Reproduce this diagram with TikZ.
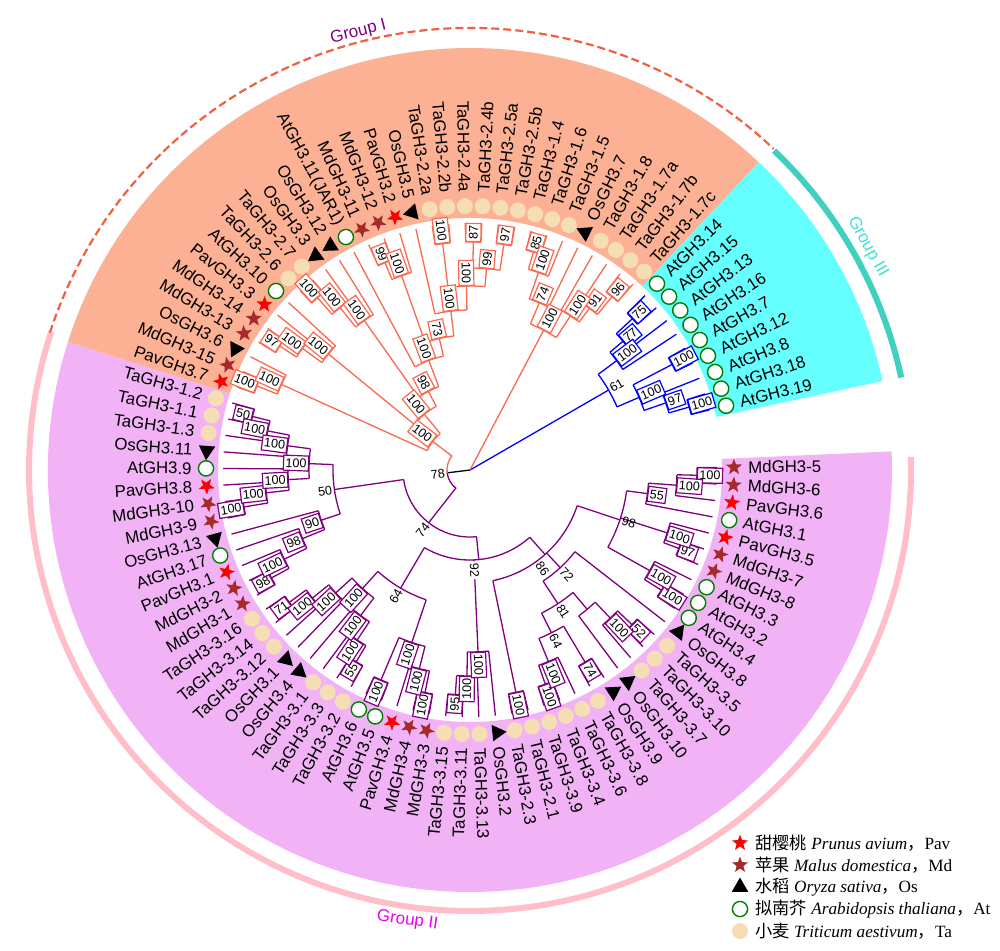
\documentclass[tikz,border=0pt]{standalone}
\usepackage{fontspec}
\setmainfont{Liberation Sans}
\newfontfamily\cjkfont{Noto Sans CJK SC}
\newfontfamily\lserif{Liberation Serif}
\usetikzlibrary{shapes.geometric}
\definecolor{secI}{RGB}{252,176,148}
\definecolor{secII}{RGB}{241,179,245}
\definecolor{secIII}{RGB}{102,255,255}
\definecolor{brI}{RGB}{250,105,80}
\definecolor{brII}{RGB}{128,0,128}
\definecolor{brIII}{RGB}{0,0,255}
\definecolor{wheatc}{RGB}{245,222,179}
\definecolor{brownc}{RGB}{165,42,42}
\definecolor{greenc}{RGB}{0,128,0}
\definecolor{ringI}{RGB}{245,95,65}
\definecolor{ringII}{RGB}{255,190,200}
\definecolor{ringIII}{RGB}{64,208,192}
\definecolor{txtI}{RGB}{128,0,128}
\definecolor{txtII}{RGB}{240,0,240}
\definecolor{txtIII}{RGB}{64,224,208}
\newcommand\setA[2]{\expandafter\xdef\csname tA@#1\endcsname{#2}}
\newcommand\getA[1]{\csname tA@#1\endcsname}
\newcommand\setR[2]{\expandafter\xdef\csname tR@#1\endcsname{#2}}
\newcommand\getR[1]{\csname tR@#1\endcsname}
\newcommand\blab[5]{%
  \if\relax\detokenize{#4}\relax\else
  \pgfmathtruncatemacro\nS{cos(\nM)>0}%
  \ifnum\nS=1
    \node[draw=#1,#5,rotate=\nM,anchor=west] (lab#2) at (\nM:#3) {#4};%
  \else
    \pgfmathsetmacro\nN{\nM+180}%
    \node[draw=#1,#5,rotate=\nN,anchor=east] (lab#2) at (\nM:#3) {#4};%
  \fi
  \fi}
\newcommand\lf[3]{%
  \pgfmathsetmacro\lfA{0.6-3.85*#1}%
  \setA{L#1}{\lfA}\setR{L#1}{247}%
  \coordinate (L#1) at (\lfA:247);
  \node[#2,rotate=\lfA] (m#1) at (\lfA:264) {};
  \pgfmathtruncatemacro\nS{cos(\lfA)>0}%
  \ifnum\nS=1
    \node[leaflab,rotate=\lfA,anchor=west] (t#1) at (\lfA:278) {#3};%
  \else
    \pgfmathsetmacro\lfB{\lfA+180}%
    \node[leaflab,rotate=\lfB,anchor=east] (t#1) at (\lfA:278) {#3};%
  \fi}
\newcommand\nd[7]{%
  \pgfmathsetmacro\nA{\getA{#4}}%
  \pgfmathsetmacro\nB{\getA{#5}}%
  \pgfmathsetmacro\nM{(\nA+\nB)/2}%
  \setA{#2}{\nM}\setR{#2}{#3}%
  \coordinate (#2) at (\nM:#3);
  \draw[brl,#1] (\nA:#3) arc[start angle=\nA,end angle=\nB,radius=#3];
  \draw[brl,#1] (\nA:#3) -- (#4);
  \draw[brl,#1] (\nB:#3) -- (#5);
  \blab{#1}{#2}{#3}{#6}{#7}}
\newcommand\ndt[8]{%
  \pgfmathsetmacro\nA{\getA{#4}}%
  \pgfmathsetmacro\nC{\getA{#5}}%
  \pgfmathsetmacro\nB{\getA{#6}}%
  \pgfmathsetmacro\nM{(\nA+\nB)/2}%
  \setA{#2}{\nM}\setR{#2}{#3}%
  \coordinate (#2) at (\nM:#3);
  \draw[brl,#1] (\nA:#3) arc[start angle=\nA,end angle=\nB,radius=#3];
  \draw[brl,#1] (\nA:#3) -- (#4);
  \draw[brl,#1] (\nC:#3) -- (#5);
  \draw[brl,#1] (\nB:#3) -- (#6);
  \blab{#1}{#2}{#3}{#7}{#8}}
\begin{document}
\begin{tikzpicture}[x=0.5pt,y=0.5pt,
  brl/.style={line width=0.65pt},
  leaflab/.style={font=\fontsize{8.4}{10}\selectfont, inner sep=0pt},
  lblB/.style={fill=white, line width=0.6pt, font=\fontsize{6.3}{6.3}\selectfont, inner xsep=1pt, inner ysep=0pt, minimum height=7.5pt},
  lblN/.style={draw=none, font=\fontsize{6.3}{6.3}\selectfont, inner sep=1pt},
  mkR/.style={star, star points=5, star point ratio=2.4, fill=red, inner sep=0pt, minimum size=8.5pt},
  mkB/.style={mkR, fill=brownc},
  mkTri/.style={regular polygon, regular polygon sides=3, fill=black, inner sep=0pt, minimum size=9.5pt},
  mkG/.style={circle, draw=greenc, fill=white, line width=0.7pt, inner sep=0pt, minimum size=7.6pt},
  mkT/.style={circle, fill=wheatc, inner sep=0pt, minimum size=8pt},
  lgt/.style={font=\lserif\fontsize{8.6}{10}\selectfont, inner sep=0pt, anchor=west},
  glab/.style={font=\fontsize{8.5}{10}\selectfont, inner sep=0pt}]
\useasboundingbox (-470,-480) rectangle (530,470);
\fill[white] (-470,-480) rectangle (530,470);
% sectors
\fill[secII] (2.525:252) arc[start angle=2.525,end angle=-197.675,radius=252] -- (-197.675:422) arc[start angle=-197.675,end angle=2.525,radius=422] -- cycle;
\fill[secI] (-197.675:252) arc[start angle=-197.675,end angle=-313.175,radius=252] -- (-313.175:422) arc[start angle=-313.175,end angle=-197.675,radius=422] -- cycle;
\fill[secIII] (-313.175:252) arc[start angle=-313.175,end angle=-347.825,radius=252] -- (-347.825:422) arc[start angle=-347.825,end angle=-313.175,radius=422] -- cycle;
% rings
\draw[ringII, line width=3pt] (1.7:441) arc[start angle=1.7,end angle=-198.3,radius=441];
\draw[ringI, line width=1.1pt, dash pattern=on 4pt off 2pt] (-198.1:442) arc[start angle=-198.1,end angle=-313.4,radius=442];
\draw[ringIII, line width=3pt] (-313.6:441) arc[start angle=-313.6,end angle=-347.9,radius=441];
\node[glab, text=txtI, rotate=14.3] (gI) at (104.3:452) {Group I};
\node[glab, text=txtIII, rotate=-60.7] (gIII) at (29.3:456) {Group III};
\node[glab, text=txtII, rotate=-8] (gII) at (-97.9:455) {Group II};
% leaves
\lf{0}{mkB}{MdGH3-5}
\lf{1}{mkB}{MdGH3-6}
\lf{2}{mkR}{PavGH3.6}
\lf{3}{mkG}{AtGH3.1}
\lf{4}{mkR}{PavGH3.5}
\lf{5}{mkB}{MdGH3-7}
\lf{6}{mkB}{MdGH3-8}
\lf{7}{mkG}{AtGH3.3}
\lf{8}{mkG}{AtGH3.2}
\lf{9}{mkG}{AtGH3.4}
\lf{10}{mkTri}{OsGH3.8}
\lf{11}{mkT}{TaGH3-3.5}
\lf{12}{mkT}{TaGH3-3.10}
\lf{13}{mkT}{TaGH3-3.7}
\lf{14}{mkTri}{OsGH3.10}
\lf{15}{mkTri}{OsGH3.9}
\lf{16}{mkT}{TaGH3-3.8}
\lf{17}{mkT}{TaGH3-3.6}
\lf{18}{mkT}{TaGH3-3.4}
\lf{19}{mkT}{TaGH3-3.9}
\lf{20}{mkT}{TaGH3-2.1}
\lf{21}{mkT}{TaGH3-2.3}
\lf{22}{mkTri}{OsGH3.2}
\lf{23}{mkT}{TaGH3-3.13}
\lf{24}{mkT}{TaGH3-3.11}
\lf{25}{mkT}{TaGH3-3.15}
\lf{26}{mkB}{MdGH3-3}
\lf{27}{mkB}{MdGH3-4}
\lf{28}{mkR}{PavGH3.4}
\lf{29}{mkG}{AtGH3.5}
\lf{30}{mkG}{AtGH3.6}
\lf{31}{mkT}{TaGH3-3.2}
\lf{32}{mkT}{TaGH3-3.3}
\lf{33}{mkT}{TaGH3-3.1}
\lf{34}{mkTri}{OsGH3.4}
\lf{35}{mkTri}{OsGH3.1}
\lf{36}{mkT}{TaGH3-3.12}
\lf{37}{mkT}{TaGH3-3.14}
\lf{38}{mkT}{TaGH3-3.16}
\lf{39}{mkB}{MdGH3-1}
\lf{40}{mkB}{MdGH3-2}
\lf{41}{mkR}{PavGH3.1}
\lf{42}{mkG}{AtGH3.17}
\lf{43}{mkTri}{OsGH3.13}
\lf{44}{mkB}{MdGH3-9}
\lf{45}{mkB}{MdGH3-10}
\lf{46}{mkR}{PavGH3.8}
\lf{47}{mkG}{AtGH3.9}
\lf{48}{mkTri}{OsGH3.11}
\lf{49}{mkT}{TaGH3-1.3}
\lf{50}{mkT}{TaGH3-1.1}
\lf{51}{mkT}{TaGH3-1.2}
\lf{52}{mkR}{PavGH3.7}
\lf{53}{mkB}{MdGH3-15}
\lf{54}{mkTri}{OsGH3.6}
\lf{55}{mkB}{MdGH3-13}
\lf{56}{mkB}{MdGH3-14}
\lf{57}{mkR}{PavGH3.3}
\lf{58}{mkG}{AtGH3.10}
\lf{59}{mkT}{TaGH3-2.6}
\lf{60}{mkT}{TaGH3-2.7}
\lf{61}{mkTri}{OsGH3.3}
\lf{62}{mkTri}{OsGH3.12}
\lf{63}{mkG}{AtGH3.11(JAR1)}
\lf{64}{mkB}{MdGH3-11}
\lf{65}{mkB}{MdGH3-12}
\lf{66}{mkR}{PavGH3.2}
\lf{67}{mkTri}{OsGH3.5}
\lf{68}{mkT}{TaGH3-2.2a}
\lf{69}{mkT}{TaGH3-2.2b}
\lf{70}{mkT}{TaGH3-2.4a}
\lf{71}{mkT}{TaGH3-2.4b}
\lf{72}{mkT}{TaGH3-2.5a}
\lf{73}{mkT}{TaGH3-2.5b}
\lf{74}{mkT}{TaGH3-1.4}
\lf{75}{mkT}{TaGH3-1.6}
\lf{76}{mkT}{TaGH3-1.5}
\lf{77}{mkTri}{OsGH3.7}
\lf{78}{mkT}{TaGH3-1.8}
\lf{79}{mkT}{TaGH3-1.7a}
\lf{80}{mkT}{TaGH3-1.7b}
\lf{81}{mkT}{TaGH3-1.7c}
\lf{82}{mkG}{AtGH3.14}
\lf{83}{mkG}{AtGH3.15}
\lf{84}{mkG}{AtGH3.13}
\lf{85}{mkG}{AtGH3.16}
\lf{86}{mkG}{AtGH3.7}
\lf{87}{mkG}{AtGH3.12}
\lf{88}{mkG}{AtGH3.8}
\lf{89}{mkG}{AtGH3.18}
\lf{90}{mkG}{AtGH3.19}
% Group III
\nd{brIII}{g3a}{222}{L82}{L83}{75}{lblB}
\nd{brIII}{g3b}{200}{g3a}{L84}{77}{lblB}
\nd{brIII}{g3c}{183}{g3b}{L85}{100}{lblB}
\nd{brIII}{g3d}{228}{L86}{L87}{100}{lblB}
\nd{brIII}{g3e}{228}{L89}{L90}{100}{lblB}
\nd{brIII}{g3f}{207}{L88}{g3e}{97}{lblB}
\nd{brIII}{g3g}{184}{g3d}{g3f}{100}{lblB}
\nd{brIII}{g61}{160}{g3c}{g3g}{61}{lblN}
% Group I right
\nd{brI}{a1}{224}{L80}{L81}{96}{lblB}
\nd{brI}{a2}{201}{L79}{a1}{91}{lblB}
\nd{brI}{a3}{184}{L78}{a2}{100}{lblB}
\nd{brI}{a4}{227}{L74}{L75}{85}{lblB}
\nd{brI}{a5}{209}{a4}{L76}{100}{lblB}
\nd{brI}{a6}{181}{a5}{L77}{74}{lblB}
\nd{brI}{a7}{158}{a6}{a3}{100}{lblB}
% Group I left
\nd{brI}{b1}{228}{L68}{L69}{100}{lblB}
\nd{brI}{b2}{228}{L70}{L71}{87}{lblB}
\nd{brI}{b3}{228}{L72}{L73}{97}{lblB}
\nd{brI}{b4}{202}{b2}{b3}{99}{lblB}
\nd{brI}{b5}{184}{b1}{b4}{100}{lblB}
\nd{brI}{b6}{160}{L67}{b5}{100}{lblB}
\nd{brI}{b7}{224}{L64}{L65}{99}{lblB}
\nd{brI}{b8}{206}{b7}{L66}{100}{lblB}
\nd{brI}{b9}{135}{b8}{b6}{73}{lblB}
\nd{brI}{b10}{117}{L63}{b9}{100}{lblB}
\nd{brI}{b11}{230}{L59}{L60}{100}{lblB}
\nd{brI}{b12}{208}{b11}{L61}{100}{lblB}
\nd{brI}{b13}{183}{b12}{L62}{100}{lblB}
\nd{brI}{b14}{89}{b13}{b10}{98}{lblB}
\nd{brI}{b15}{227}{L55}{L56}{97}{lblB}
\nd{brI}{b16}{207}{b15}{L57}{100}{lblB}
\nd{brI}{b17}{183}{b16}{L58}{100}{lblB}
\nd{brI}{b18}{72}{b17}{b14}{100}{lblB}
\nd{brI}{b19}{229}{L52}{L53}{100}{lblB}
\nd{brI}{b20}{207}{b19}{L54}{100}{lblB}
\nd{brI}{b21}{47}{b20}{b18}{100}{lblB}
% Group II left
\nd{brII}{c1}{224}{L51}{L50}{50}{lblB}
\nd{brII}{c2}{206}{c1}{L49}{100}{lblB}
\nd{brII}{c3}{184}{c2}{L48}{100}{lblB}
\nd{brII}{c4}{229}{L45}{L44}{100}{lblB}
\nd{brII}{c5}{205}{L46}{c4}{100}{lblB}
\nd{brII}{c6}{182}{L47}{c5}{100}{lblB}
\nd{brII}{c7}{161}{c3}{c6}{100}{lblB}
\nd{brII}{c8}{226}{L40}{L39}{98}{lblB}
\nd{brII}{c9}{206}{L41}{c8}{100}{lblB}
\nd{brII}{c10}{181}{L42}{c9}{98}{lblB}
\nd{brII}{c11}{157}{L43}{c10}{90}{lblB}
\nd{brII}{c12}{137}{c7}{c11}{50}{lblN}
\nd{brII}{d1}{224}{L38}{L37}{71}{lblB}
\nd{brII}{d2}{203}{d1}{L36}{100}{lblB}
\nd{brII}{d3}{182}{d2}{L35}{100}{lblB}
\nd{brII}{d4}{223}{L32}{L31}{55}{lblB}
\nd{brII}{d5}{204}{L33}{d4}{100}{lblB}
\nd{brII}{d6}{182}{L34}{d5}{100}{lblB}
\nd{brII}{d7}{160}{d3}{d6}{100}{lblB}
\nd{brII}{d8}{228}{L30}{L29}{100}{lblB}
\nd{brII}{d9}{227}{L27}{L26}{100}{lblB}
\nd{brII}{d10}{205}{L28}{d9}{100}{lblB}
\nd{brII}{d11}{182}{d8}{d10}{100}{lblB}
\nd{brII}{d12}{137}{d7}{d11}{64}{lblN}
% Group II right
\nd{brII}{e1}{225}{L25}{L24}{95}{lblB}
\nd{brII}{e2}{206}{e1}{L23}{100}{lblB}
\nd{brII}{e3}{182}{e2}{L22}{100}{lblB}
\nd{brII}{e4}{227}{L21}{L20}{100}{lblB}
\nd{brII}{f1}{227}{L19}{L18}{100}{lblB}
\nd{brII}{f2}{207}{f1}{L17}{100}{lblB}
\nd{brII}{f3}{224}{L16}{L15}{74}{lblB}
\nd{brII}{f4}{182}{f2}{f3}{64}{lblN}
\nd{brII}{f5}{224}{L12}{L11}{52}{lblB}
\nd{brII}{f6}{204}{L13}{f5}{100}{lblB}
\nd{brII}{f7}{182}{L14}{f6}{}{lblN}
\nd{brII}{f8}{160}{f4}{f7}{81}{lblN}
\nd{brII}{f9}{133}{f8}{L10}{72}{lblN}
\nd{brII}{g1}{227}{L1}{L0}{100}{lblB}
\nd{brII}{g2}{207}{L2}{g1}{100}{lblB}
\nd{brII}{g3}{179}{L3}{g2}{55}{lblB}
\nd{brII}{g4}{223}{L6}{L5}{97}{lblB}
\nd{brII}{g5}{207}{g4}{L4}{100}{lblB}
\nd{brII}{g6}{226}{L9}{L8}{100}{lblB}
\nd{brII}{g7}{206}{g6}{L7}{100}{lblB}
\ndt{brII}{g8}{158}{g7}{g5}{g3}{98}{lblN}
\ndt{brII}{h2}{113}{e4}{f9}{g8}{}{lblN}
\node[lblN, rotate=-53.7, anchor=west] (labh2) at (-53.7:113) {86};
\ndt{brII}{h3}{90}{d12}{e3}{h2}{}{lblN}
\node[lblN, fill=white, rotate=-87.47, anchor=west] (labh3) at (-87.47:91) {92};
\nd{brII}{h4}{67}{c12}{h3}{74}{lblN}
% root
\coordinate (root) at (0,0);
\draw[brl,brIII] (root) -- (g61);
\draw[brl,brI] (root) -- (a7);
\pgfmathsetmacro\nA{\getA{b21}}
\pgfmathsetmacro\nB{\getA{h4}}
\pgfmathsetmacro\nM{(\nA+\nB)/2}
\coordinate (n78) at (\nM:23);
\draw[brl,black] (root) -- (n78);
\draw[brl,brI] (\nM:23) arc[start angle=\nM,end angle=\nA,radius=23] -- (b21);
\draw[brl,brII] (\nM:23) arc[start angle=\nM,end angle=\nB,radius=23] -- (h4);
\blab{black}{n78}{23}{78}{lblN}
% legend
\node[mkR] (lg1) at (270,-373) {};
\node[lgt] (lt1) at (285,-373) {{\cjkfont 甜樱桃} \textit{Prunus avium}{\cjkfont ，}Pav};
\node[mkB] (lg2) at (270,-395) {};
\node[lgt] (lt2) at (285,-395) {{\cjkfont 苹果} \textit{Malus domestica}{\cjkfont ，}Md};
\node[mkTri] (lg3) at (270,-417) {};
\node[lgt] (lt3) at (285,-417) {{\cjkfont 水稻} \textit{Oryza sativa}{\cjkfont ，}Os};
\node[mkG] (lg4) at (270,-439) {};
\node[lgt] (lt4) at (285,-439) {{\cjkfont 拟南芥} \textit{Arabidopsis thaliana}{\cjkfont ，}At};
\node[mkT] (lg5) at (270,-461) {};
\node[lgt] (lt5) at (285,-461) {{\cjkfont 小麦} \textit{Triticum aestivum}{\cjkfont ，}Ta};
\end{tikzpicture}
\end{document}
